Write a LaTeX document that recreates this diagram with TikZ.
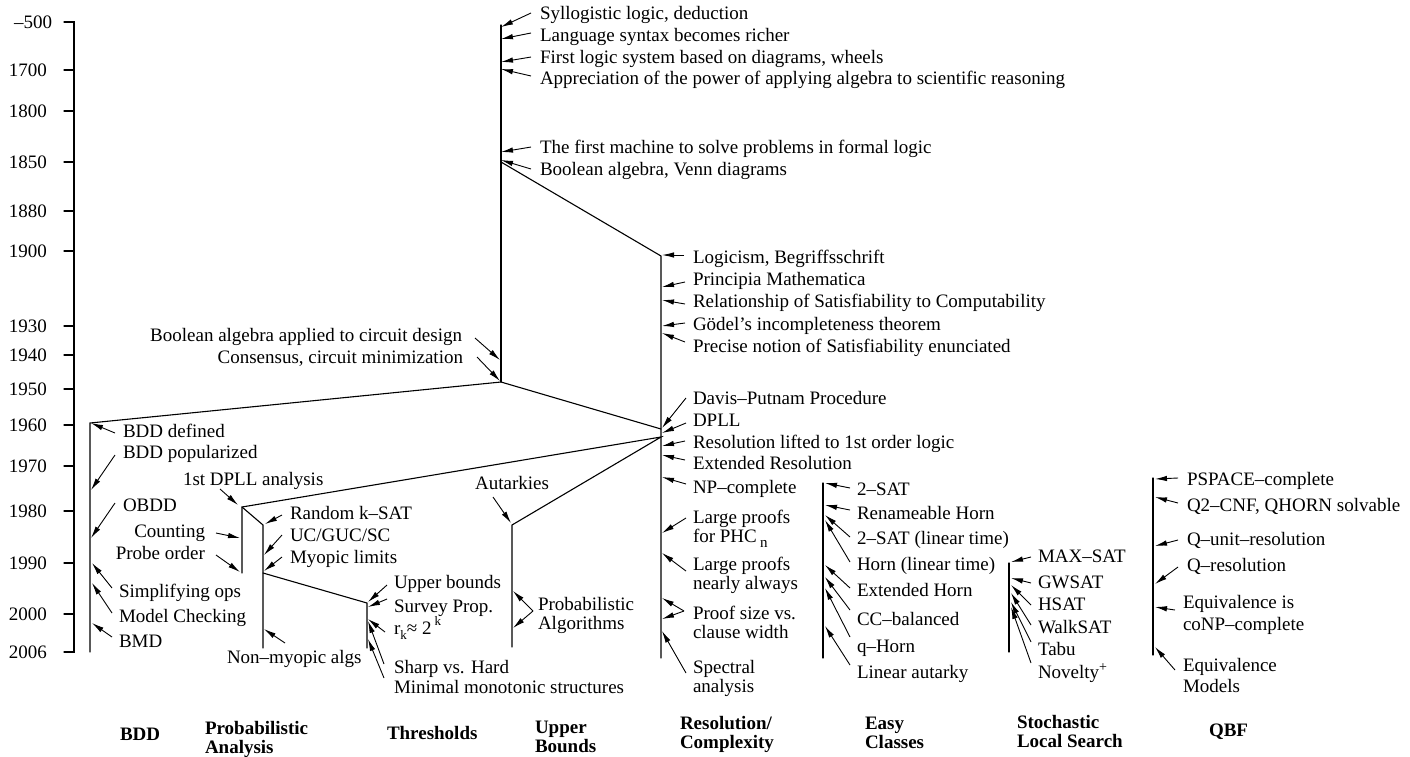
\documentclass[tikz,border=0pt]{standalone}
\usepackage{fontspec}
\setmainfont{Liberation Serif}
\usetikzlibrary{arrows.meta}
\newcommand\twol[2]{\begin{tabular}[t]{@{}l@{}}#1\\#2\end{tabular}}
\newcommand\twow[2]{\begin{tabular}[t]{@{}l@{}}#1\\[3pt]#2\end{tabular}}
\newcommand\twom[2]{\begin{tabular}[t]{@{}l@{}}#1\\[2pt]#2\end{tabular}}
\newcommand\lb[4]{\node[lbl,anchor=base west] (#1) at (#2,#3) {#4};}
\newcommand\ar[3]{\draw[arr] ([shift={(#2)}]#1.base west) -- (#3);}
\newcommand\sml[1]{{\fontsize{13}{13}\selectfont #1}}
\begin{document}
\begin{tikzpicture}[x=1pt,y=-1pt,
  every node/.style={inner sep=0pt, outer sep=0pt},
  lbl/.style={font=\fontsize{19}{19}\selectfont},
  bold/.style={font=\fontsize{19}{19}\selectfont\bfseries, anchor=base west},
  yr/.style={font=\fontsize{19}{19}\selectfont, anchor=base east},
  ln/.style={line width=1.1pt, line cap=round},
  arr/.style={line width=0.9pt, -{Latex[length=12pt,width=5.5pt]}},
]
\useasboundingbox (0,0) rectangle (1410,756);

% ---------- time axis ----------
\coordinate (ax0) at (74,22);
\coordinate (ax1) at (74,652);
\coordinate (tk0) at (64,22);
\coordinate (tk1) at (64,652);
\draw[ln] (tk0) -- (ax0) -- (ax1) -- (tk1);
\node[yr] (y500) at (52,28.5) {–500};
\node[yr] (y2006) at (47,658.5) {2006};
\foreach \yy/\tt in {70/1700,111/1800,162/1850,211/1880,251/1900,326/1930,355/1940,389/1950,425/1960,466/1970,511/1980,563/1990,614/2000}{
  \coordinate (ta\tt) at (64,\yy);
  \coordinate (tb\tt) at (74,\yy);
  \draw[ln] (ta\tt) -- (tb\tt);
  \node[yr] (yl\tt) at (47,\yy+6.5) {\tt};
}

% ---------- tree ----------
\coordinate (E0) at (501,25);
\coordinate (E1) at (501,162);
\coordinate (E2) at (501,382);
\coordinate (R0) at (661,256);
\coordinate (R1) at (661,429);
\coordinate (R2) at (661,437);
\coordinate (R3) at (661,658);
\coordinate (B0) at (90,423);
\coordinate (B1) at (90,652);
\coordinate (P0) at (242,507);
\coordinate (P1) at (242,573);
\coordinate (Q0) at (263,525);
\coordinate (Q1) at (263,573);
\coordinate (Q2) at (263,648);
\coordinate (T0) at (367,603);
\coordinate (T1) at (367,648);
\coordinate (U0) at (512,525);
\coordinate (U1) at (512,647);
\coordinate (C0) at (823,483);
\coordinate (C1) at (823,658);
\coordinate (S0) at (1009,563);
\coordinate (S1) at (1009,652);
\coordinate (Z0) at (1153,478);
\coordinate (Z1) at (1153,655);

\draw[ln] (E0) -- (E2);
\draw[ln] (E1) -- (R0) -- (R3);
\draw[ln] (B1) -- (B0) -- (E2) -- (R1);
\draw[ln] (P1) -- (P0) -- (R2) -- (U0) -- (U1);
\draw[ln] (P0) -- (Q0) -- (Q2);
\draw[ln] (Q1) -- (T0) -- (T1);
\draw[ln] (C0) -- (C1);
\draw[ln] (S0) -- (S1);
\draw[ln] (Z0) -- (Z1);

% ---------- early logic ----------
\lb{sy}{540}{19}{Syllogistic logic, deduction}
\lb{la}{540}{41}{Language syntax becomes richer}
\lb{fi}{540}{63}{First logic system based on diagrams, wheels}
\lb{ap}{540}{84}{Appreciation of the power of applying algebra to scientific reasoning}
\lb{ma}{540}{153}{The first machine to solve problems in formal logic}
\lb{bo}{540}{175}{Boolean algebra, Venn diagrams}
\coordinate (tsy) at (501,27); \ar{sy}{-9,-6}{tsy}
\coordinate (tla) at (501,39); \ar{la}{-9,-8}{tla}
\coordinate (tfi) at (501,62); \ar{fi}{-9,-6}{tfi}
\coordinate (tap) at (501,69); \ar{ap}{-9,-8}{tap}
\coordinate (tma) at (501,152); \ar{ma}{-9,-6}{tma}
\coordinate (tbo) at (501,160); \ar{bo}{-9,-6}{tbo}

\node[lbl,anchor=base east] (ba) at (462,341) {Boolean algebra applied to circuit design};
\node[lbl,anchor=base east] (cs) at (463,363) {Consensus, circuit minimization};
\coordinate (tba) at (500,360);
\coordinate (tcs) at (500,381);
\draw[arr] ([shift={(13,-3)}]ba.base east) -- (tba);
\draw[arr] ([shift={(14,-6)}]cs.base east) -- (tcs);

% ---------- resolution / complexity ----------
\lb{lo}{693}{263}{Logicism, Begriffsschrift}
\lb{pm}{693}{285}{Principia Mathematica}
\lb{re}{693}{307}{Relationship of Satisfiability to Computability}
\lb{go}{693}{330}{Gödel’s incompleteness theorem}
\lb{pn}{693}{352}{Precise notion of Satisfiability enunciated}
\lb{dp}{693}{404}{Davis–Putnam Procedure}
\lb{dl}{693}{426}{DPLL}
\lb{rl}{693}{448}{Resolution lifted to 1st order logic}
\lb{er}{693}{469}{Extended Resolution}
\lb{np}{693}{493}{NP–complete}
\lb{lp}{693}{523}{\twol{Large proofs}{for PHC\,\raisebox{-5pt}{\fontsize{15}{15}\selectfont n}}}
\lb{lnn}{693}{570}{\twol{Large proofs}{nearly always}}
\lb{ps}{693}{619}{\twol{Proof size vs.}{clause width}}
\lb{sp}{693}{673}{\twol{Spectral}{analysis}}
\coordinate (tlo) at (662,255); \ar{lo}{-9,-8}{tlo}
\coordinate (tpm) at (662,287); \ar{pm}{-8,-3}{tpm}
\coordinate (tre) at (662,300); \ar{re}{-8,-3}{tre}
\coordinate (tgo) at (662,326); \ar{go}{-8,-7}{tgo}
\coordinate (tpn) at (662,333); \ar{pn}{-8,-10}{tpn}
\coordinate (tdp) at (662,428); \ar{dp}{-7,-6}{tdp}
\coordinate (tdl) at (662,433); \ar{dl}{-7,-3}{tdl}
\coordinate (trl) at (662,446); \ar{rl}{-8,-7}{trl}
\coordinate (ter) at (662,455); \ar{er}{-8,-9}{ter}
\coordinate (tnp) at (662,477); \ar{np}{-7,-9}{tnp}
\coordinate (tlp) at (662,533); \ar{lp}{-7,-5}{tlp}
\coordinate (tln) at (662,553); \ar{lnn}{-7,1}{tln}
\coordinate (tps1) at (662,598); \ar{ps}{-9,-8}{tps1}
\coordinate (tps2) at (662,619); \ar{ps}{-9,-8}{tps2}
\coordinate (tsp) at (662,631); \ar{sp}{-7,0}{tsp}

% ---------- BDD ----------
\lb{bd}{123}{437}{BDD defined}
\lb{bp}{123}{458}{BDD popularized}
\lb{ob}{123}{511}{OBDD}
\lb{si}{119}{597}{Simplifying ops}
\lb{mc}{119}{622}{Model Checking}
\lb{bm}{119}{647}{BMD}
\coordinate (tbd) at (91,423); \ar{bd}{-8,-4}{tbd}
\coordinate (tbp) at (91,490); \ar{bp}{-8,-3}{tbp}
\coordinate (tob) at (91,538); \ar{ob}{-8,-8}{tob}
\coordinate (tsi) at (92,563); \ar{si}{-7,-9}{tsi}
\coordinate (tmc) at (92,583); \ar{mc}{-7,-9}{tmc}
\coordinate (tbm) at (92,623); \ar{bm}{-7,-10}{tbm}

% ---------- probabilistic analysis ----------
\lb{da}{183}{485}{1st DPLL analysis}
\node[lbl,anchor=base east] (ct) at (205,537) {Counting};
\node[lbl,anchor=base east] (po) at (205,559) {Probe order};
\lb{rk}{290}{519}{Random k–SAT}
\lb{uc}{290}{541}{UC/GUC/SC}
\lb{my}{290}{563}{Myopic limits}
\lb{nm}{227}{663}{Non–myopic algs}
\coordinate (tda) at (238,505); \ar{da}{37,4}{tda}
\coordinate (tct) at (240,538);
\draw[arr] ([shift={(11,-4)}]ct.base east) -- (tct);
\coordinate (tpo) at (240,572);
\draw[arr] ([shift={(11,-4)}]po.base east) -- (tpo);
\coordinate (trk) at (265,524); \ar{rk}{-8,-4}{trk}
\coordinate (tuc) at (264,555); \ar{uc}{-8,-6}{tuc}
\coordinate (tmy) at (264,571); \ar{my}{-8,-6}{tmy}
\coordinate (tnm) at (264,629); \ar{nm}{58,-20}{tnm}

% ---------- thresholds ----------
\lb{ub}{394}{588}{Upper bounds}
\lb{sv}{394}{612}{Survey Prop.}
\lb{rr}{394}{634}{r\raisebox{-5pt}{\sml{k}}≈ 2\,\raisebox{9pt}{\sml{k}}}
\lb{sh}{394}{673}{Sharp vs. Hard}
\lb{mm}{394}{693}{Minimal monotonic structures}
\coordinate (tub) at (368,602); \ar{ub}{-7,-3}{tub}
\coordinate (tsv) at (368,607); \ar{sv}{-7,-13}{tsv}
\coordinate (trr) at (368,619); \ar{rr}{-9,-2}{trr}
\coordinate (tsh) at (368,621); \ar{sh}{-10,-9}{tsh}
\coordinate (tmm) at (368,639); \ar{mm}{-10,-15}{tmm}

% ---------- upper bounds ----------
\node[lbl,anchor=base] (au) at (512,489) {Autarkies};
\lb{pa}{538}{610}{\twol{Probabilistic}{Algorithms}}
\coordinate (tau) at (511,523);
\draw[arr] ([shift={(-19,8)}]au.base) -- (tau);
\coordinate (tpa1) at (513,591); \ar{pa}{-5,1}{tpa1}
\coordinate (tpa2) at (513,628); \ar{pa}{-5,1}{tpa2}

% ---------- easy classes ----------
\lb{e1}{857}{495}{2–SAT}
\lb{e2}{857}{519}{Renameable Horn}
\lb{e3}{857}{544}{2–SAT (linear time)}
\lb{e4}{857}{570}{Horn (linear time)}
\lb{e5}{857}{596}{Extended Horn}
\lb{e6}{857}{625}{CC–balanced}
\lb{e7}{857}{652}{q–Horn}
\lb{e8}{857}{678}{Linear autarky}
\coordinate (te1) at (825,483); \ar{e1}{-7,-7}{te1}
\coordinate (te2) at (825,505); \ar{e2}{-7,-9}{te2}
\coordinate (te3) at (825,515); \ar{e3}{-7,-7}{te3}
\coordinate (te4) at (825,520); \ar{e4}{-7,-8}{te4}
\coordinate (te5) at (825,565); \ar{e5}{-7,-8}{te5}
\coordinate (te6) at (825,577); \ar{e6}{-7,-15}{te6}
\coordinate (te7) at (825,588); \ar{e7}{-7,-15}{te7}
\coordinate (te8) at (825,626); \ar{e8}{-7,-13}{te8}

% ---------- stochastic local search ----------
\lb{s1}{1038}{562}{MAX–SAT}
\lb{s2}{1038}{588}{GWSAT}
\lb{s3}{1038}{610}{HSAT}
\lb{s4}{1038}{633}{WalkSAT}
\lb{s5}{1038}{655}{Tabu}
\lb{s6}{1038}{678}{Novelty\raisebox{7pt}{\fontsize{14}{14}\selectfont +}}
\coordinate (ts1) at (1011,562); \ar{s1}{-7,-5}{ts1}
\coordinate (ts2) at (1011,578); \ar{s2}{-7,-5}{ts2}
\coordinate (ts3) at (1011,585); \ar{s3}{-7,-5}{ts3}
\coordinate (ts4) at (1011,593); \ar{s4}{-7,-8}{ts4}
\coordinate (ts5) at (1011,602); \ar{s5}{-7,-13}{ts5}
\coordinate (ts6) at (1011,607); \ar{s6}{-7,-15}{ts6}

% ---------- QBF ----------
\lb{q1}{1187}{485}{PSPACE–complete}
\lb{q2}{1187}{511}{Q2–CNF, QHORN solvable}
\lb{q3}{1187}{545}{Q–unit–resolution}
\lb{q4}{1187}{571}{Q–resolution}
\lb{q5}{1183}{608}{\twow{Equivalence is}{coNP–complete}}
\lb{q6}{1183}{671}{\twom{Equivalence}{Models}}
\coordinate (tq1) at (1155,479); \ar{q1}{-9,-7}{tq1}
\coordinate (tq2) at (1155,497); \ar{q2}{-9,-8}{tq2}
\coordinate (tq3) at (1155,546); \ar{q3}{-9,-5}{tq3}
\coordinate (tq4) at (1155,584); \ar{q4}{-9,-4}{tq4}
\coordinate (tq5) at (1155,607); \ar{q5}{-8,2}{tq5}
\coordinate (tq6) at (1155,647); \ar{q6}{-8,-1}{tq6}

% ---------- category titles ----------
\node[bold] (hbdd) at (120,740) {BDD};
\node[bold] (hpa) at (205,734) {\twol{Probabilistic}{Analysis}};
\node[bold] (hth) at (387,739) {Thresholds};
\node[bold] (hub) at (535,733) {\twol{Upper}{Bounds}};
\node[bold] (hrc) at (680,729) {\twol{Resolution/}{Complexity}};
\node[bold] (hec) at (865,729) {\twol{Easy}{Classes}};
\node[bold] (hsl) at (1017,728) {\twol{Stochastic}{Local Search}};
\node[bold] (hqb) at (1209,736) {QBF};
\end{tikzpicture}
\end{document}
